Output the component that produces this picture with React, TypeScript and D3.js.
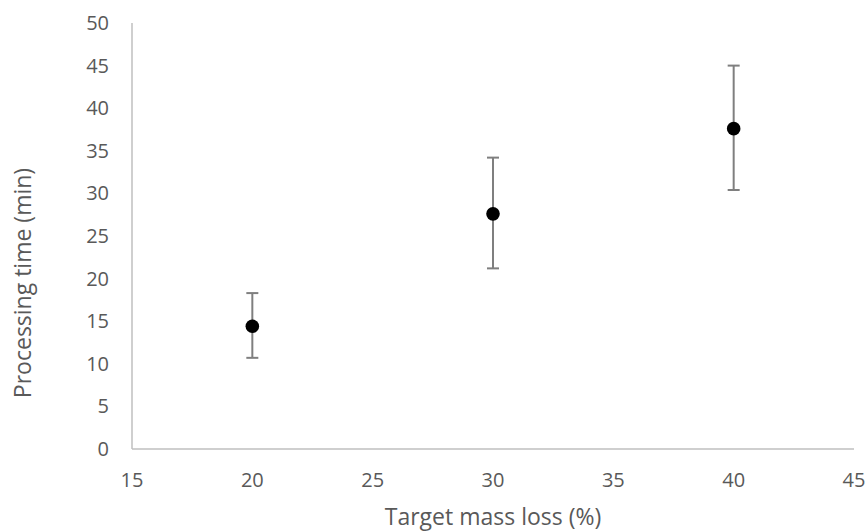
import * as d3 from "d3";
import { useEffect, useRef } from "react";

// target mass loss (%)
const massLoss = [20, 30, 40];
// mean processing time (min)
const meanTime = [14.4, 27.6, 37.6];
// error bar limits
const upper = [18.3, 34.2, 45.0];
const lower = [10.7, 21.2, 30.4];

const xTicks = [15, 20, 25, 30, 35, 40, 45];
const yTicks = [0, 5, 10, 15, 20, 25, 30, 35, 40, 45, 50];

export default function App() {
  const ref = useRef<SVGSVGElement>(null);

  useEffect(() => {
    const svg = d3.select(ref.current);
    svg.selectAll("*").remove();

    const font = "'Open Sans', sans-serif";
    const textColor = "#595959";

    const x = d3.scaleLinear().domain([15, 45]).range([132, 854]);
    const y = d3.scaleLinear().domain([0, 50]).range([449, 23]);

    // axes lines
    svg.append("line")
      .attr("x1", x(15)).attr("x2", x(15))
      .attr("y1", y(0)).attr("y2", y(50))
      .attr("stroke", "#bfbfbf").attr("stroke-width", 1.5);
    svg.append("line")
      .attr("x1", x(15)).attr("x2", x(45))
      .attr("y1", y(0)).attr("y2", y(0))
      .attr("stroke", "#bfbfbf").attr("stroke-width", 1.5);

    // tick labels
    svg.selectAll(".yt")
      .data(yTicks)
      .join("text")
      .attr("x", 109)
      .attr("y", d => y(d))
      .attr("dy", "0.35em")
      .attr("text-anchor", "end")
      .attr("font-family", font)
      .attr("font-size", 20)
      .attr("fill", textColor)
      .text(d => d);

    svg.selectAll(".xt")
      .data(xTicks)
      .join("text")
      .attr("x", d => x(d))
      .attr("y", 480)
      .attr("dy", "0.35em")
      .attr("text-anchor", "middle")
      .attr("font-family", font)
      .attr("font-size", 20)
      .attr("fill", textColor)
      .text(d => d);

    // axis titles
    svg.append("text")
      .attr("x", 493)
      .attr("y", 517)
      .attr("dy", "0.35em")
      .attr("text-anchor", "middle")
      .attr("font-family", font)
      .attr("font-size", 23)
      .attr("fill", textColor)
      .text("Target mass loss (%)");

    svg.append("text")
      .attr("transform", "translate(23,283) rotate(-90)")
      .attr("dy", "0.35em")
      .attr("text-anchor", "middle")
      .attr("font-family", font)
      .attr("font-size", 23)
      .attr("fill", textColor)
      .text("Processing time (min)");

    // error bars
    const err = svg.append("g")
      .attr("stroke", "#7f7f7f")
      .attr("stroke-width", 2);
    massLoss.forEach((m, i) => {
      err.append("line")
        .attr("x1", x(m)).attr("x2", x(m))
        .attr("y1", y(upper[i])).attr("y2", y(lower[i]));
      err.append("line")
        .attr("x1", x(m) - 6).attr("x2", x(m) + 6)
        .attr("y1", y(upper[i])).attr("y2", y(upper[i]));
      err.append("line")
        .attr("x1", x(m) - 6).attr("x2", x(m) + 6)
        .attr("y1", y(lower[i])).attr("y2", y(lower[i]));
    });

    // points
    svg.selectAll(".pt")
      .data(massLoss)
      .join("circle")
      .attr("cx", d => x(d))
      .attr("cy", (_, i) => y(meanTime[i]))
      .attr("r", 6.8)
      .attr("fill", "#000");
  }, []);

  return (
    <svg
      ref={ref}
      width={868}
      height={531}
      style={{ position: "absolute", left: 0, top: 0, background: "#fff" }}
    />
  );
}
